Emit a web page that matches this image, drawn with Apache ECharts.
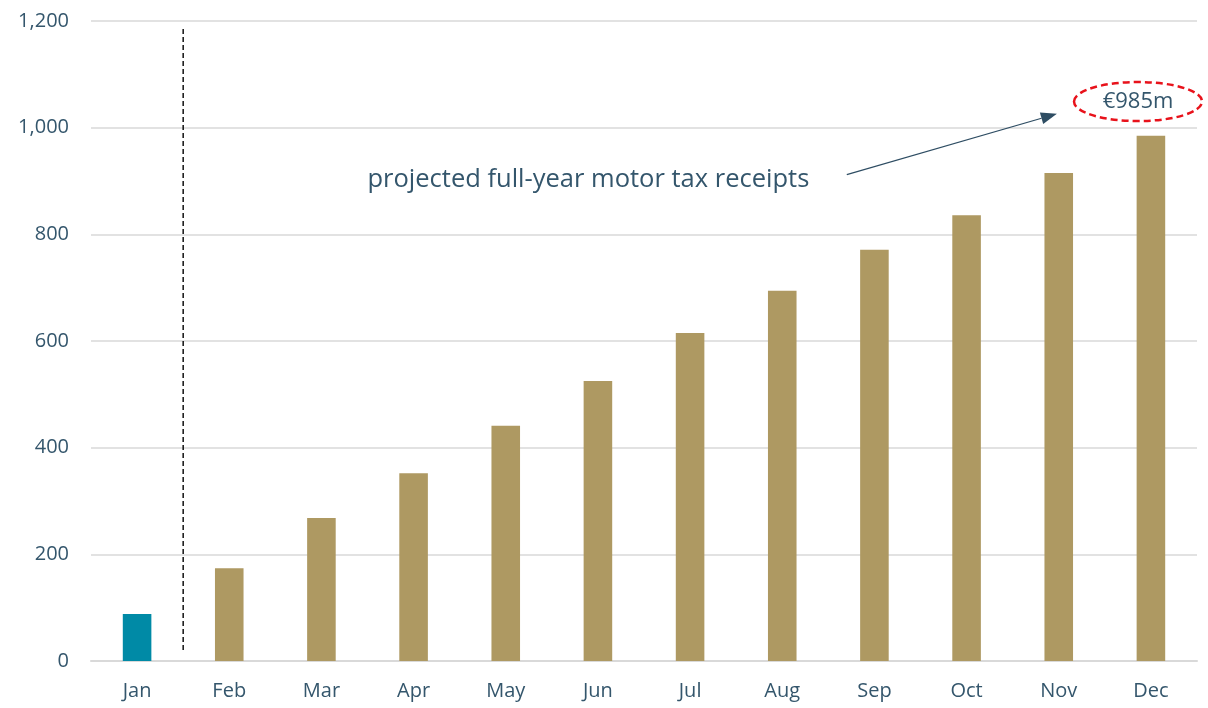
<!DOCTYPE html>
<html>
<head>
<meta charset="utf-8">
<script src="https://cdn.jsdelivr.net/npm/echarts@6/dist/echarts.min.js"></script>
<style>
  html, body { margin: 0; padding: 0; background: #fff; }
  #main { width: 1208px; height: 708px; }
</style>
</head>
<body>
<div id="main"></div>
<script>
// data
let months = ['Jan', 'Feb', 'Mar', 'Apr', 'May', 'Jun', 'Jul', 'Aug', 'Sep', 'Oct', 'Nov', 'Dec'];
let receipts = [88, 174, 268, 352, 441, 525, 615, 694, 771, 836, 915, 985];
let actualMonths = ['Jan'];   // outturn, rest is projection
let yTicks = [0, 200, 400, 600, 800, 1000, 1200];
let noteText = 'projected full-year motor tax receipts';
let totalLabel = '€985m';

let textColor = '#34566c';
let gold = '#ae9962';
let teal = '#008aa6';
let font = 'Open Sans';

let chart = echarts.init(document.getElementById('main'));

let barData = receipts.map(function (v, i) {
    return {
        value: v,
        itemStyle: { color: actualMonths.indexOf(months[i]) >= 0 ? teal : gold }
    };
});

let option = {
    backgroundColor: '#fff',
    animation: false,
    textStyle: { fontFamily: font },
    grid: { left: 91, right: 11, top: 21, bottom: 47, containLabel: false },
    xAxis: {
        type: 'category',
        data: months,
        axisLine: { lineStyle: { color: '#d9d9d9', width: 2 } },
        axisTick: { show: false },
        axisLabel: { color: textColor, fontSize: 20, margin: 20, fontFamily: font }
    },
    yAxis: {
        type: 'value',
        min: yTicks[0],
        max: yTicks[yTicks.length - 1],
        interval: yTicks[1] - yTicks[0],
        axisLine: { show: false },
        axisTick: { show: false },
        splitLine: { lineStyle: { color: '#d9d9d9', width: 1.5 } },
        axisLabel: {
            color: textColor, fontSize: 20, margin: 22, fontFamily: font,
            formatter: function (v) { return v.toLocaleString('en-US'); }
        }
    },
    series: [{
        type: 'bar',
        data: barData,
        barWidth: '31%'
    }]
};
chart.setOption(option);

// annotations placed from the chart's own scales
function px(cat, val) { return chart.convertToPixel({ xAxisIndex: 0, yAxisIndex: 0 }, [cat, val]); }
let p0 = px('Jan', 0), p1 = px('Feb', 0);
let step = p1[0] - p0[0];
function xAt(k) { return p0[0] + step * k; }
function yAt(v) { return chart.convertToPixel({ yAxisIndex: 0 }, v); }

let divX = xAt(0.5);
let ellCx = xAt(10.86), ellCy = yAt(1049);
let arrFrom = [xAt(7.7), yAt(912)], arrTo = [xAt(9.98), yAt(1026)];
let ang = Math.atan2(arrTo[1] - arrFrom[1], arrTo[0] - arrFrom[0]);
let hl = 16, hw = 6;
let base = [arrTo[0] - hl * Math.cos(ang), arrTo[1] - hl * Math.sin(ang)];
let head = [
    arrTo,
    [base[0] + hw * Math.sin(ang), base[1] - hw * Math.cos(ang)],
    [base[0] - hw * Math.sin(ang), base[1] + hw * Math.cos(ang)]
];

chart.setOption({
    graphic: [
        {
            type: 'line',
            shape: { x1: divX, y1: yAt(1185), x2: divX, y2: yAt(20) },
            style: { stroke: '#000', lineWidth: 1.4, lineDash: [5, 3] }
        },
        {
            type: 'text',
            x: xAt(2.5), y: yAt(902),
            style: { text: noteText, fill: textColor, fontSize: 25.5, fontFamily: font, textVerticalAlign: 'middle' }
        },
        {
            type: 'line',
            shape: { x1: arrFrom[0], y1: arrFrom[1], x2: base[0], y2: base[1] },
            style: { stroke: '#2e4d63', lineWidth: 1.2 }
        },
        {
            type: 'polygon',
            shape: { points: head },
            style: { fill: '#2e4d63' }
        },
        {
            type: 'ellipse',
            shape: { cx: ellCx, cy: ellCy, rx: 64, ry: 19.5 },
            style: { fill: 'none', stroke: '#e8121b', lineWidth: 2.5, lineDash: [7, 4] }
        },
        {
            type: 'text',
            x: ellCx, y: ellCy,
            style: { text: totalLabel, fill: textColor, fontSize: 22, fontFamily: font, textAlign: 'center', textVerticalAlign: 'middle' }
        }
    ]
});
</script>
</body>
</html>
